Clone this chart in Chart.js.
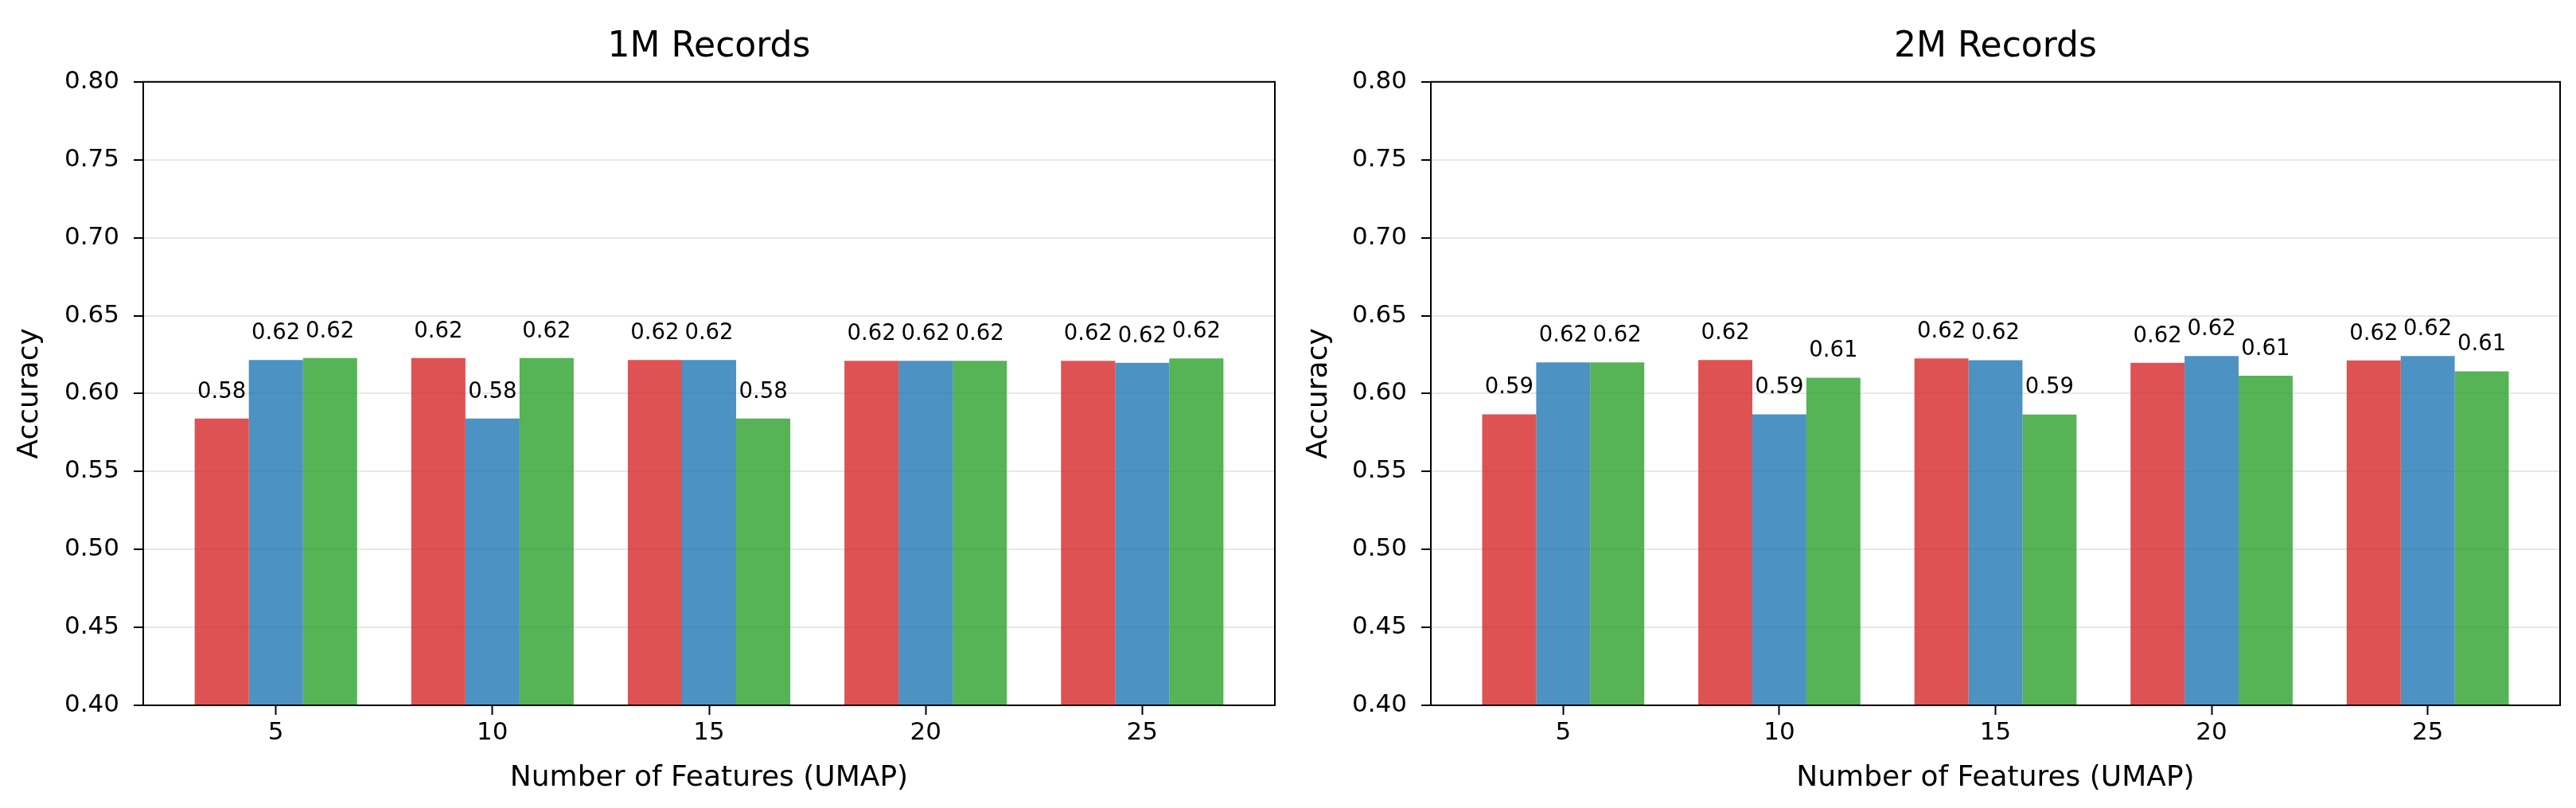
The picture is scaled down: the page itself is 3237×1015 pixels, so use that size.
<!DOCTYPE html>
<html>
<head>
<meta charset="utf-8">
<script src="https://cdn.jsdelivr.net/npm/chart.js@4.4.1/dist/chart.umd.min.js"></script>
<style>
  body { margin: 0; background: #fff; }
  #wrap { position: relative; width: 3237px; height: 1015px; }
  .box { position: absolute; top: 0; height: 1015px; }
</style>
</head>
<body>
<div id="wrap">
  <div class="box" style="left:0;width:1620px"><canvas id="chart1M" width="1620" height="1015"></canvas></div>
  <div class="box" style="left:1620px;width:1617px"><canvas id="chart2M" width="1617" height="1015"></canvas></div>
</div>
<script>
// categories (number of UMAP features)
const features = ['5', '10', '15', '20', '25'];
const yTicks = [0.40, 0.45, 0.50, 0.55, 0.60, 0.65, 0.70, 0.75, 0.80];

// accuracy, 1M records
const acc1M_red   = [0.584, 0.6228, 0.6215, 0.6210, 0.6210];
const acc1M_blue  = [0.6215, 0.584, 0.6215, 0.6210, 0.6197];
const acc1M_green = [0.6228, 0.6228, 0.584, 0.6210, 0.6225];

// accuracy, 2M records
const acc2M_red   = [0.5867, 0.6215, 0.6225, 0.6197, 0.6213];
const acc2M_blue  = [0.6200, 0.5867, 0.6214, 0.6241, 0.6241];
const acc2M_green = [0.6200, 0.6102, 0.5866, 0.6115, 0.6143];

const colors = ['rgba(214, 39, 40, 0.8)', 'rgba(31, 119, 180, 0.8)', 'rgba(44, 160, 44, 0.8)'];

Chart.defaults.font.family = 'DejaVu Sans';
Chart.defaults.color = '#000';

// box around the plot + value labels on top of bars
const framePlugin = {
  id: 'frame',
  afterDatasetsDraw(chart) {
    const { ctx, chartArea: a } = chart;
    const yScale = chart.scales.y;
    ctx.save();
    ctx.font = '27.5px "DejaVu Sans"';
    ctx.fillStyle = '#000';
    ctx.textAlign = 'center';
    ctx.textBaseline = 'bottom';
    chart.data.datasets.forEach((ds, di) => {
      chart.getDatasetMeta(di).data.forEach((bar, i) => {
        const v = ds.data[i].y;
        ctx.fillText(v.toFixed(2), bar.x, yScale.getPixelForValue(v + 0.01));
      });
    });
    ctx.strokeStyle = '#000';
    ctx.lineWidth = 2;
    ctx.strokeRect(a.left, a.top, a.right - a.left, a.bottom - a.top);
    ctx.restore();
  }
};

function makeChart(id, title, series, yAxisWidth, rightPad) {
  return new Chart(document.getElementById(id), {
    type: 'bar',
    data: {
      datasets: series.map((vals, k) => ({
        data: vals.map((v, i) => ({ x: i, y: v })),
        backgroundColor: colors[k],
        borderWidth: 0,
        categoryPercentage: 0.75,
        barPercentage: 1.0,
      })),
    },
    options: {
      responsive: false,
      animation: false,
      layout: { padding: { left: 0, right: rightPad, top: 0, bottom: 0 } },
      plugins: {
        legend: { display: false },
        tooltip: { enabled: false },
        title: {
          display: true,
          text: title,
          fullSize: false,
          color: '#000',
          font: { size: 44, weight: 'normal' },
          padding: { top: 33, bottom: 17 },
        },
      },
      scales: {
        x: {
          type: 'linear',
          min: -0.6125,
          max: 4.6125,
          offset: false,
          afterBuildTicks: (s) => { s.ticks = features.map((f, i) => ({ value: i })); },
          afterFit: (s) => { s.height = 129; },
          ticks: {
            callback: (v, i) => features[i],
            font: { size: 31 },
            color: '#000',
            padding: 4,
            maxRotation: 0,
            autoSkip: false,
          },
          grid: { offset: false, drawOnChartArea: false, tickLength: 12, tickWidth: 2, tickColor: '#000' },
          border: { display: false },
          title: {
            display: true,
            text: 'Number of Features (UMAP)',
            color: '#000',
            font: { size: 36 },
            padding: { top: 0, bottom: 16 },
          },
        },
        y: {
          min: 0.4,
          max: 0.8,
          afterBuildTicks: (s) => { s.ticks = yTicks.map((v) => ({ value: v })); },
          afterFit: (s) => { s.width = yAxisWidth; },
          ticks: {
            callback: (v) => v.toFixed(2),
            font: { size: 31 },
            color: '#000',
            padding: 18,
          },
          grid: {
            color: 'rgba(176, 176, 176, 0.3)',
            lineWidth: 2,
            tickLength: 12,
            tickWidth: 2,
            tickColor: '#000',
          },
          border: { display: false },
          title: {
            display: true,
            text: 'Accuracy',
            color: '#000',
            font: { size: 36 },
            padding: { top: 16, bottom: 0 },
          },
        },
      },
    },
    plugins: [framePlugin],
  });
}

makeChart('chart1M', '1M Records', [acc1M_red, acc1M_blue, acc1M_green], 180, 18);
makeChart('chart2M', '2M Records', [acc2M_red, acc2M_blue, acc2M_green], 178, 20);
</script>
</body>
</html>
